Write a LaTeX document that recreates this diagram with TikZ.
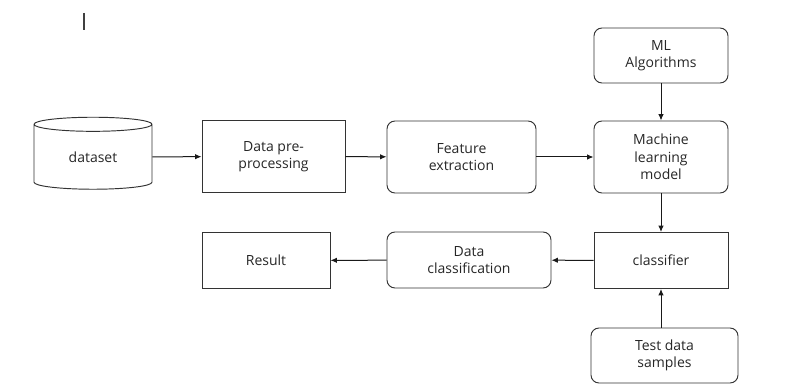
\documentclass[tikz,border=0pt]{standalone}
\usepackage{fontspec}
\setmainfont{Open Sans}
\usepackage{tikz}
\usetikzlibrary{arrows.meta,positioning,shapes.geometric}

\begin{document}
\begin{tikzpicture}[
  x=1pt, y=-1pt,
  font=\fontsize{14}{17.5}\selectfont,
  text=black!85,
  base/.style={draw=black!80, line width=0.95pt, inner sep=0pt, align=center},
  sqbox/.style={base, rectangle},
  rbox/.style={base, rectangle, rounded corners=8pt},
  store/.style={base, cylinder, shape border rotate=90, shape aspect=0.29},
  arr/.style={-{Latex[length=6.5pt, width=5.5pt]}, line width=1pt, black!90}
]
\useasboundingbox (0,0) rectangle (793,385);
% ---------------- stray cursor
\draw[black!75, line width=1.2pt] (84,13) -- (84,30);
% ---------------- top row
\node[store, minimum width=118pt, minimum height=72pt] (dataset) at (93,157) {dataset};
\node[sqbox, minimum width=143pt, minimum height=72pt] (prep) at (273.5,156.5) {Data pre-\\processing};
\node[rbox, minimum width=149pt, minimum height=72pt] (feat) at (461.5,157) {Feature\\extraction};
\node[rbox, minimum width=134pt, minimum height=72pt] (model) at (661,157) {Machine\\learning\\model};
\node[rbox, minimum width=134pt, minimum height=55pt] (algo) at (661,55.5) {ML\\Algorithms};
% ---------------- bottom row
\node[sqbox, minimum width=134pt, minimum height=56pt] (clf) at (661,260.5) {classifier};
\node[rbox, minimum width=164pt, minimum height=56pt] (dcls) at (469,260) {Data\\classification};
\node[sqbox, minimum width=128pt, minimum height=56pt] (res) at (266,260.5) {Result};
\node[rbox, minimum width=147pt, minimum height=55pt] (test) at (664.5,355.5) {Test data\\samples};
% ---------------- arrows
\draw[arr] (dataset) -- (prep);
\draw[arr] (prep) -- (feat);
\draw[arr] (feat) -- (model);
\draw[arr] (algo) -- (model);
\draw[arr] (model) -- (clf);
\draw[arr] (clf) -- (dcls);
\draw[arr] (dcls) -- (res);
\draw[arr] (test.north -| clf.south) -- (clf.south);
\end{tikzpicture}
\end{document}
